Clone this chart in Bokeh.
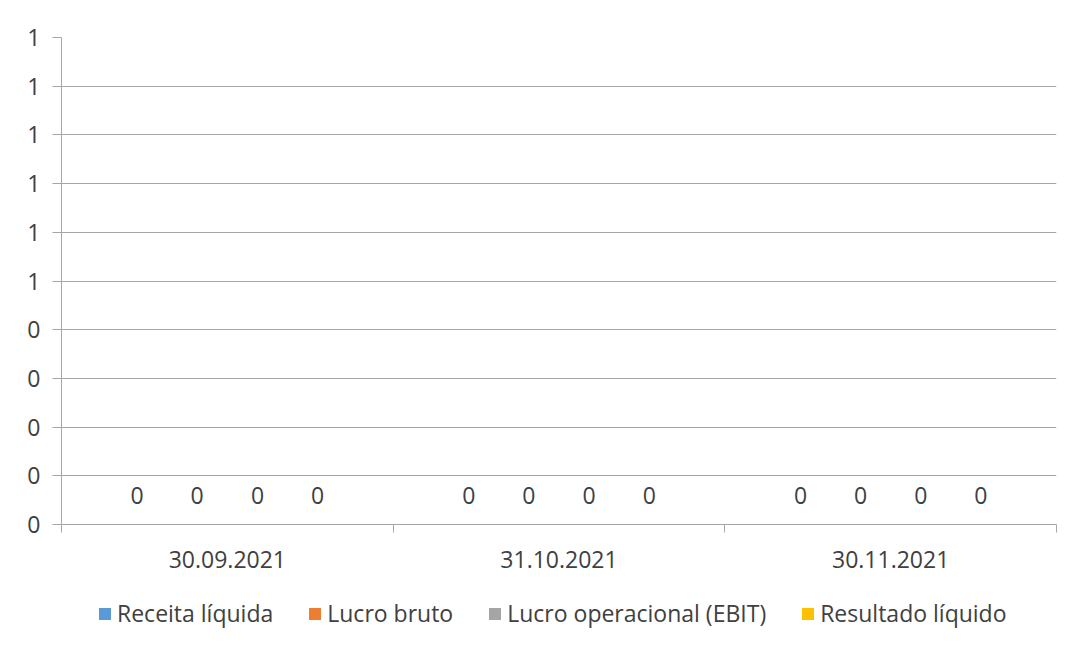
from bokeh.plotting import figure
from bokeh.layouts import column
from bokeh.models import FixedTicker, Legend, LegendItem, ColumnDataSource, CustomJSTickFormatter, Range1d
from bokeh.transform import dodge
from bokeh.embed import file_html
from bokeh.resources import INLINE
from bokeh.core.properties import value

categories = ["30.09.2021", "31.10.2021", "30.11.2021"]
series_names = ["Receita líquida", "Lucro bruto", "Lucro operacional (EBIT)", "Resultado líquido"]
receita_liquida = [0, 0, 0]
lucro_bruto = [0, 0, 0]
lucro_operacional = [0, 0, 0]
resultado_liquido = [0, 0, 0]
y_ticks = [0, 0.1, 0.2, 0.3, 0.4, 0.5, 0.6, 0.7, 0.8, 0.9, 1.0]

series_values = [receita_liquida, lucro_bruto, lucro_operacional, resultado_liquido]
colors = ["#5B9BD5", "#ED7D31", "#A5A5A5", "#FFC000"]
offsets = [-0.272, -0.091, 0.091, 0.272]

FONT = "Open Sans"
TXT = "#404040"
FS = "23px"
W = 1060

p = figure(width=W, height=580, output_backend="svg", toolbar_location=None,
           x_range=Range1d(0, len(categories)), y_range=Range1d(0, 1.0),
           min_border_left=61, min_border_right=4, min_border_top=37, min_border_bottom=56)
p.outline_line_color = None
p.background_fill_color = "white"
p.border_fill_color = "white"

xs = [i + 0.5 for i in range(len(categories))]
data = {"x": xs}
for k, vals in enumerate(series_values):
    data[f"s{k}"] = vals
    data[f"l{k}"] = ["{:.0f}".format(v) for v in vals]
src = ColumnDataSource(data)

for k, name in enumerate(series_names):
    p.vbar(x=dodge("x", offsets[k], range=p.x_range), top=f"s{k}", bottom=0, width=0.17,
           source=src, fill_color=colors[k], line_color=None)
    p.text(x=dodge("x", offsets[k], range=p.x_range), y=f"s{k}", text=f"l{k}", source=src,
           text_align="center", text_baseline="middle", y_offset=-29,
           text_font=value(FONT), text_font_size=FS, text_color=TXT)

# y axis
p.yaxis.ticker = FixedTicker(ticks=y_ticks)
p.yaxis.formatter = CustomJSTickFormatter(code="return Math.round(tick + 1e-9).toString();")
p.yaxis.axis_line_color = "#a6a6a6"
p.yaxis.major_tick_line_color = "#a6a6a6"
p.yaxis.major_tick_out = 9
p.yaxis.major_tick_in = 0
p.yaxis.minor_tick_line_color = None
p.yaxis.major_label_text_font = FONT
p.yaxis.major_label_text_font_size = FS
p.yaxis.major_label_text_color = TXT
p.yaxis.major_label_standoff = 12

# x axis
p.xaxis.ticker = FixedTicker(ticks=xs, minor_ticks=list(range(len(categories) + 1)))
p.xaxis.major_label_overrides = {x: c for x, c in zip(xs, categories)}
p.xaxis.axis_line_color = "#a6a6a6"
p.xaxis.major_tick_line_color = None
p.xaxis.major_tick_out = 0
p.xaxis.major_tick_in = 0
p.xaxis.minor_tick_line_color = "#a6a6a6"
p.xaxis.minor_tick_out = 8
p.xaxis.minor_tick_in = 0
p.xaxis.major_label_text_font = FONT
p.xaxis.major_label_text_font_size = FS
p.xaxis.major_label_text_color = TXT
p.xaxis.major_label_standoff = 18

p.xgrid.grid_line_color = None
p.ygrid.grid_line_color = "#a6a6a6"
p.ygrid.ticker = FixedTicker(ticks=y_ticks)

# legend strip
lg = figure(width=W, height=60, output_backend="svg", toolbar_location=None,
            x_range=Range1d(0, len(categories)), y_range=Range1d(0, 1.0),
            x_axis_type=None, y_axis_type=None,
            min_border_left=0, min_border_right=0, min_border_top=0, min_border_bottom=0)
lg.outline_line_color = None
lg.xgrid.visible = False
lg.ygrid.visible = False
items = []
for k, name in enumerate(series_names):
    r = lg.vbar(x="x", top=f"s{k}", bottom=0, width=0.17, source=src,
                fill_color=colors[k], line_color=None)
    items.append(LegendItem(label=name, renderers=[r]))
legend = Legend(items=items, orientation="horizontal", location=(36, 11),
                label_text_font=FONT, label_text_font_size=FS, label_text_color=TXT,
                glyph_width=15, glyph_height=15, label_standoff=5, spacing=34,
                border_line_color=None, background_fill_alpha=0, padding=0, margin=0)
lg.add_layout(legend, "center")

layout = column(p, lg, spacing=0)
open("out.html", "w").write(file_html(layout, INLINE))
